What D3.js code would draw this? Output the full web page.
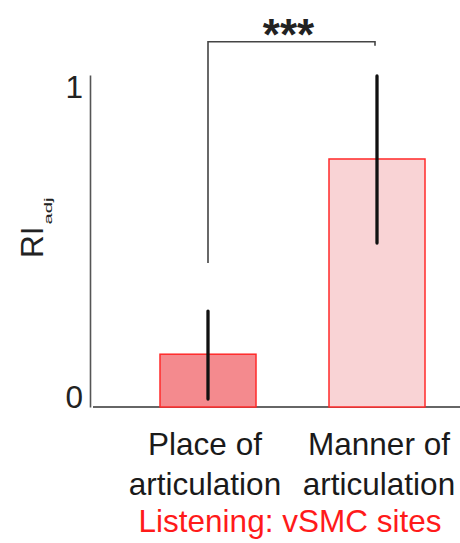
<!DOCTYPE html>
<html>
<head>
<meta charset="utf-8">
<script src="https://cdn.jsdelivr.net/npm/d3@7"></script>
<style>
  html, body { margin: 0; padding: 0; background: #fff; }
  svg { display: block; font-family: "Liberation Sans", Arial, Helvetica, sans-serif; }
</style>
</head>
<body>
<svg id="chart" width="460" height="543"></svg>
<script>
// Adjusted redundancy index per feature class, vSMC sites during listening
const categories = ["Place of articulation", "Manner of articulation"];
const labelLines = [["Place of", "articulation"], ["Manner of", "articulation"]];
const values = [0.159, 0.747];
const errLow = [0.024, 0.494];
const errHigh = [0.289, 0.997];
const fills = ["#f48a8e", "#f9d3d5"];
const yTicks = [0, 1];
const sigText = "***";
const sigFrom = 0.434;   // lower end of the left bracket leg
const sigLevel = 1.10;   // height of the bracket bar
const sigRightDrop = 1.088;

const svg = d3.select("#chart");

const y = d3.scaleLinear().domain([0, 1]).range([407, 75]);
const x = d3.scalePoint().domain(categories).range([208, 377]);
const barW = 96;

// y axis
const yAxis = d3.axisLeft(y).tickValues(yTicks).tickFormat(d3.format("d"))
  .tickSizeInner(0).tickSizeOuter(0).tickPadding(7);
const gy = svg.append("g").attr("transform", "translate(90,0)").call(yAxis);
gy.select(".domain").attr("stroke", "#555").attr("stroke-width", 1.6);
gy.selectAll(".tick text")
  .attr("font-size", 31.5)
  .attr("font-family", "Liberation Sans, Arial, sans-serif")
  .attr("fill", "#222")
  .attr("dy", d => d === 1 ? "0.72em" : "0em");

// x axis baseline
svg.append("line")
  .attr("x1", 93).attr("x2", 460)
  .attr("y1", y(0)).attr("y2", y(0))
  .attr("stroke", "#333").attr("stroke-width", 1.6);

// bars
svg.selectAll("rect.bar").data(categories).join("rect")
  .attr("class", "bar")
  .attr("x", d => x(d) - barW / 2)
  .attr("width", barW)
  .attr("y", (d, i) => y(values[i]))
  .attr("height", (d, i) => y(0) - y(values[i]))
  .attr("fill", (d, i) => fills[i])
  .attr("stroke", "#ff2a2a")
  .attr("stroke-width", 1.5);

// significance bracket
const c0 = x(categories[0]), c1 = x(categories[1]) - 2;
svg.append("path")
  .attr("d", d3.line()([[c0, y(sigFrom)], [c0, y(sigLevel)], [c1, y(sigLevel)], [c1, y(sigRightDrop)]]))
  .attr("fill", "none").attr("stroke", "#444").attr("stroke-width", 1.6);
svg.append("text")
  .attr("x", (c0 + c1) / 2 - 3).attr("y", y(sigLevel) + 8)
  .attr("text-anchor", "middle")
  .attr("font-size", 44)
  .attr("font-weight", "bold")
  .attr("fill", "#222")
  .text(sigText);

// error bars
svg.selectAll("line.err").data(categories).join("line")
  .attr("class", "err")
  .attr("x1", d => x(d)).attr("x2", d => x(d))
  .attr("y1", (d, i) => y(errLow[i]))
  .attr("y2", (d, i) => y(errHigh[i]))
  .attr("stroke", "#111").attr("stroke-width", 3.3)
  .attr("stroke-linecap", "round");

// category labels
const lab = svg.selectAll("text.cat").data(categories).join("text")
  .attr("class", "cat")
  .attr("text-anchor", "middle")
  .attr("font-size", 31.5)
  .attr("fill", "#1a1a1a");
lab.each(function(d, i) {
  const t = d3.select(this);
  labelLines[i].forEach((line, k) => {
    t.append("tspan").attr("x", x(d) + (i === 0 ? -3 : 2)).attr("y", 455 + k * 40).text(line);
  });
});

// condition title
svg.append("text")
  .attr("x", 290).attr("y", 532)
  .attr("text-anchor", "middle")
  .attr("font-size", 31.5)
  .attr("fill", "#ff1a1a")
  .text("Listening: vSMC sites");

// y-axis title with subscript
const yt = svg.append("text")
  .attr("transform", "translate(43,258) rotate(-90)")
  .attr("font-size", 31.5)
  .attr("fill", "#222");
yt.append("tspan").text("RI");
yt.append("tspan")
  .attr("dx", 2).attr("dy", 9)
  .attr("font-size", 11.5)
  .attr("textLength", 27)
  .attr("lengthAdjust", "spacingAndGlyphs")
  .text("adj");
</script>
</body>
</html>
